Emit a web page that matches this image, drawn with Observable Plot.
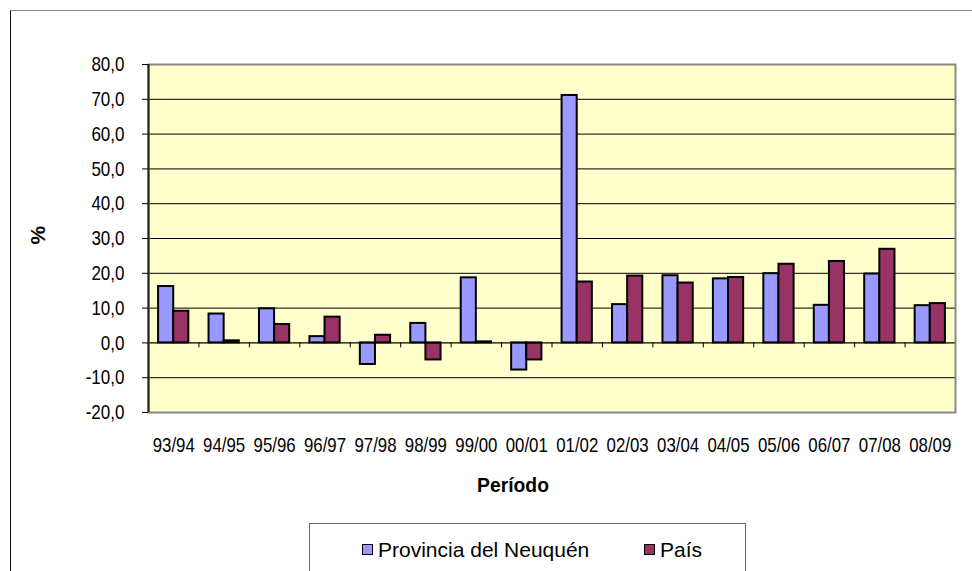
<!DOCTYPE html>
<html><head><meta charset="utf-8">
<script src="https://cdn.jsdelivr.net/npm/d3@7"></script>
<script src="https://cdn.jsdelivr.net/npm/@observablehq/plot@0.6"></script>
<style>
body{margin:0;background:#fff;width:972px;height:571px;overflow:hidden;position:relative;font-family:"Liberation Sans",Arial,sans-serif;}
#frame{position:absolute;left:10px;top:10px;width:990px;height:600px;border-left:1px solid #111;border-top:1px solid #888;}
#chart{position:absolute;left:0;top:0;}
#legend{position:absolute;left:309px;top:523px;width:435px;height:70px;border:1px solid #666;background:#fff;}
.item{position:absolute;top:14px;font-size:21px;line-height:24px;color:#000;white-space:nowrap;}
.sw{position:absolute;top:6px;left:0;width:9px;height:9px;border:1.5px solid #000;}
.lab{position:absolute;left:16px;top:0;}
</style>
</head><body>
<div id="frame"></div>
<div id="chart"></div>
<div id="legend"></div>
<script>
const periods = ["93/94","94/95","95/96","96/97","97/98","98/99","99/00","00/01","01/02","02/03","03/04","04/05","05/06","06/07","07/08","08/09"];
const seriesNames = ["Provincia del Neuquén","País"];
const neuquen = [16.2, 8.3, 9.8, 1.8, -6.2, 5.6, 18.7, -7.8, 71.1, 11.0, 19.3, 18.4, 19.9, 10.8, 19.8, 10.7];
const pais = [9.1, 0.6, 5.3, 7.4, 2.2, -4.9, 0.3, -4.9, 17.5, 19.2, 17.2, 18.8, 22.6, 23.4, 26.9, 11.3];
const yTicks = [-20, -10, 0, 10, 20, 30, 40, 50, 60, 70, 80];
const colors = ["#9999FF", "#993366"];

// group layout within each category slot (fraction of slot)
const groupStart = 0.2, barFrac = 0.3;
const data = [];
[neuquen, pais].forEach((vals, s) => vals.forEach((v, i) => data.push({
  period: periods[i], series: seriesNames[s], value: v,
  x1: i + groupStart + s * barFrac, x2: i + groupStart + (s + 1) * barFrac
})));
const centers = periods.map((p, i) => i + 0.5);
const bounds = d3.range(periods.length + 1);
const fmt = d => d.toFixed(1).replace(".", ",");
const font = '"Liberation Sans",Arial,sans-serif';

const chart = Plot.plot({
  width: 972, height: 515,
  marginLeft: 148, marginRight: 17, marginTop: 64, marginBottom: 103,
  style: {fontFamily: font, fontSize: "21px", background: "transparent", overflow: "visible", color: "#000"},
  x: {domain: [0, periods.length]},
  y: {domain: [-20, 80]},
  marks: [
    Plot.frame({fill: "#FFFFCC"}),
    Plot.ruleY(yTicks.filter(v => v > -20 && v < 80 && v !== 0), {stroke: "#000", strokeWidth: 1}),
    Plot.rectY(data, {x1: "x1", x2: "x2", y: "value", fill: d => colors[seriesNames.indexOf(d.series)], stroke: "#000", strokeWidth: 2}),
    Plot.ruleY([0], {stroke: "#000", strokeWidth: 1.2}),
    Plot.ruleX(bounds, {x: d => d, y1: 0, y2: 0, insetBottom: -5, stroke: "#000", strokeWidth: 1}),
    Plot.frame({stroke: "#888", strokeWidth: 2}),
    Plot.ruleX([0], {stroke: "#222", strokeWidth: 2}),
    Plot.axisY({ticks: yTicks, tickFormat: fmt, tickSize: 6, tickPadding: 18, label: null, fontSize: 21}),
    Plot.axisX({ticks: centers, tickFormat: d => periods[Math.floor(d)], tickSize: 0, tickPadding: 25, label: null, fontSize: 21}),
    Plot.text(["%"], {frameAnchor: "left", dx: -110, dy: 6, text: d => d, rotate: -90, fontWeight: "bold", fontSize: 21}),
    Plot.text(["Período"], {frameAnchor: "bottom", dx: -39, dy: 79, text: d => d, fontWeight: "bold", fontSize: 21, className: "xtitle"})
  ]
});
document.getElementById("chart").appendChild(chart);

// condense text horizontally to mimic the narrow typeface of the original
function condense(sel, k) {
  chart.querySelectorAll(sel).forEach(t => {
    const w = t.getComputedTextLength();
    t.setAttribute("textLength", (w * k).toFixed(1));
    t.setAttribute("lengthAdjust", "spacingAndGlyphs");
  });
}
condense('g[aria-label="x-axis tick label"] text', 0.8);
condense('g[aria-label="y-axis tick label"] text', 0.81);
condense('.xtitle text', 0.92);

const legend = document.getElementById("legend");
const legendPos = [52, 334];
seriesNames.forEach((n, i) => {
  const it = document.createElement("div");
  it.className = "item";
  it.style.left = legendPos[i] + "px";
  it.innerHTML = `<span class="sw" style="background:${colors[i]}"></span><span class="lab">${n}</span>`;
  legend.appendChild(it);
});
</script>
</body></html>
